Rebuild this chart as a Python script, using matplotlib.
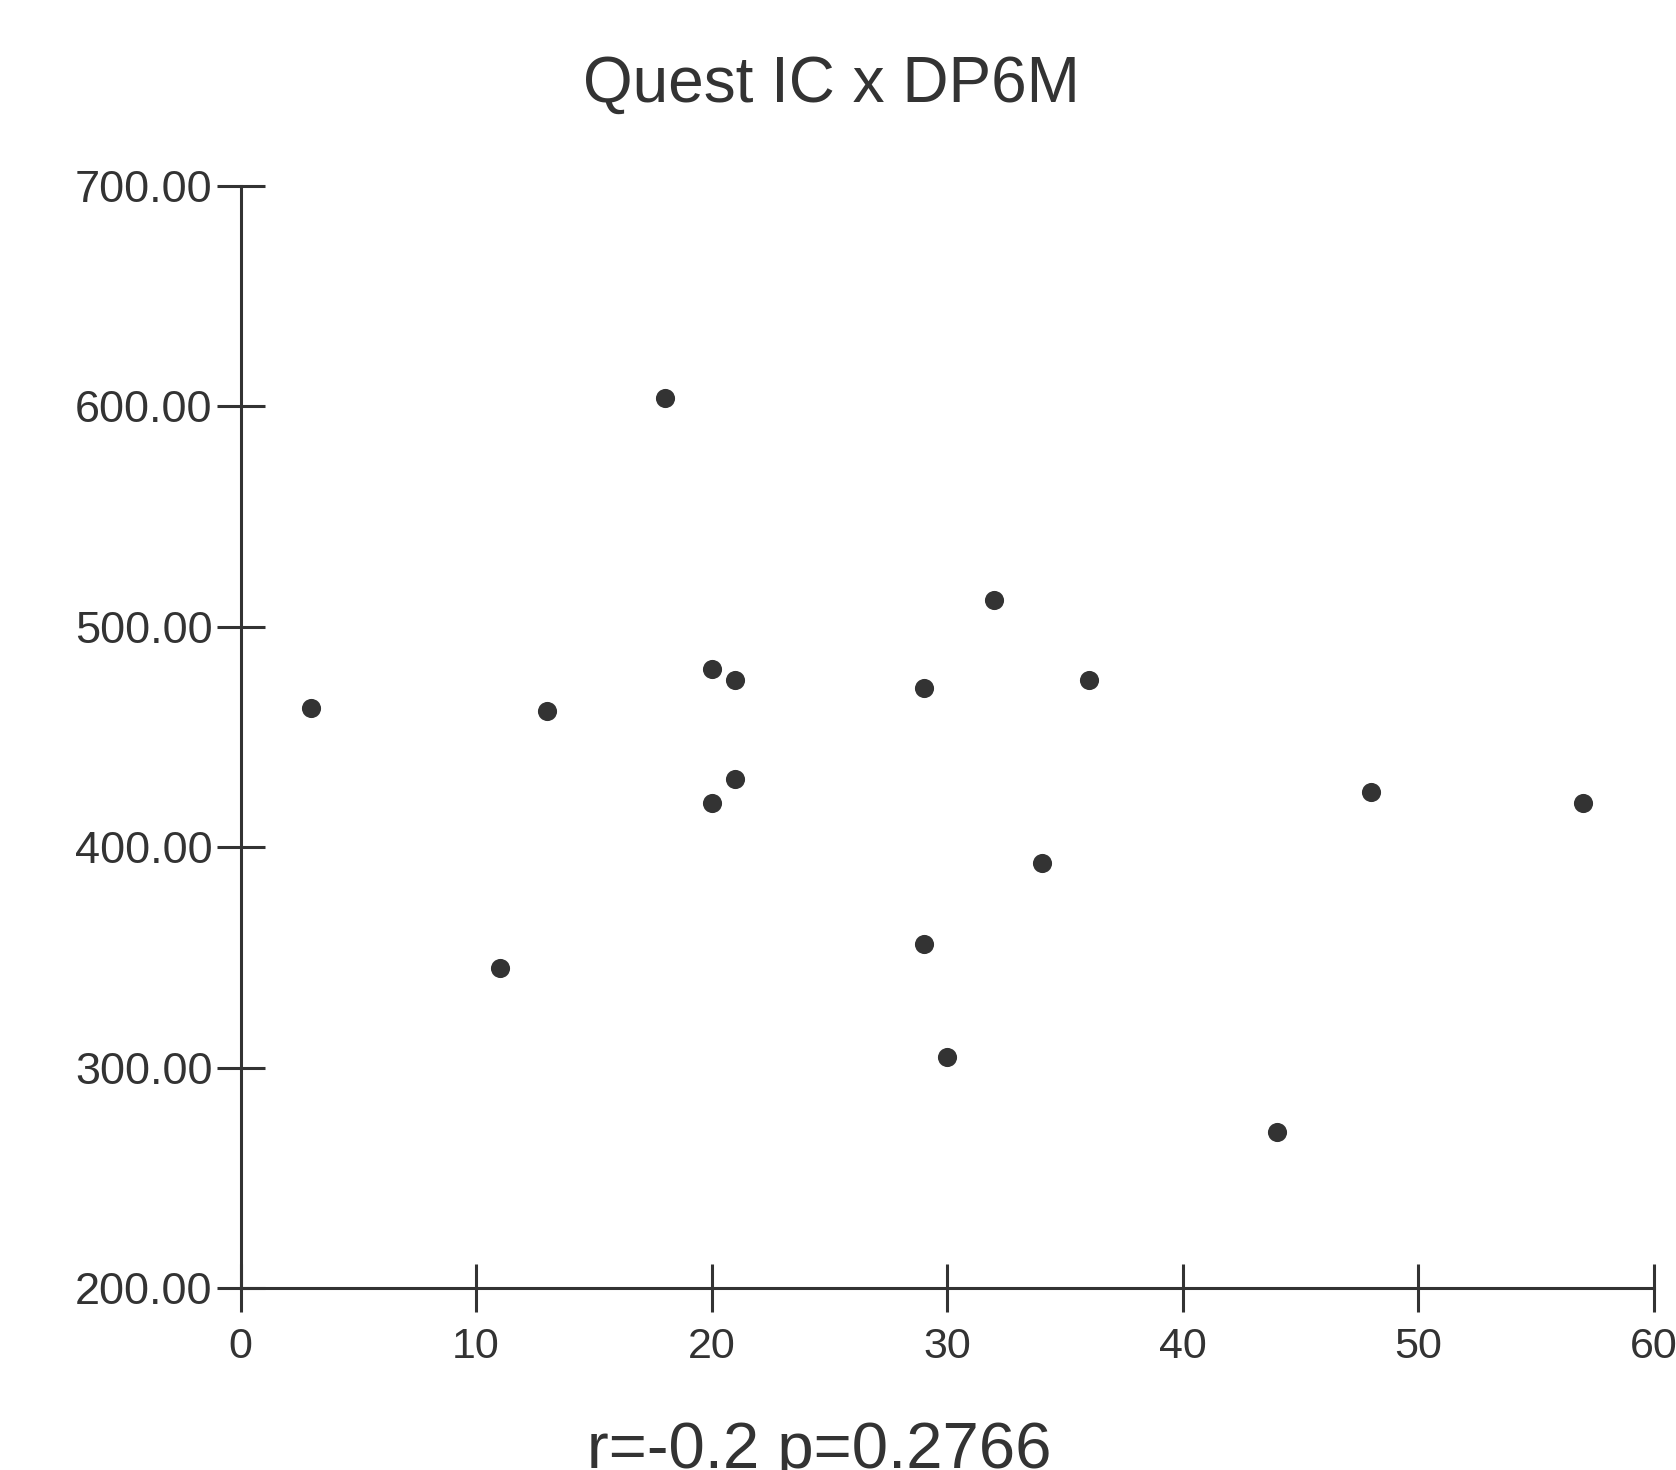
import numpy as np
import matplotlib
matplotlib.use("Agg")
import matplotlib.pyplot as plt

plt.rcParams['font.family'] = ['Liberation Sans', 'DejaVu Sans']

# Quest IC (x) vs DP6M (y)
quest_ic = [3, 11, 13, 18, 20, 20, 21, 21, 29, 29, 30, 32, 34, 36, 44, 48, 57]
dp6m = [463, 345, 462, 604, 481, 420, 476, 431, 472, 356, 305, 512, 393, 476, 271, 425, 420]

x_ticks = [0, 10, 20, 30, 40, 50, 60]
y_ticks = [200, 300, 400, 500, 600, 700]

col = '#333333'

fig = plt.figure(figsize=(16.76, 14.70), dpi=100)
ax = fig.add_axes([0.1435, 0.1238, 0.8434, 0.7497])

ax.scatter(quest_ic, dp6m, s=190, color=col, marker='o', linewidths=0, zorder=3, clip_on=False)

ax.set_xlim(0, 60)
ax.set_ylim(200, 700)
ax.set_xticks(x_ticks)
ax.set_yticks(y_ticks)
ax.set_yticklabels(['%.2f' % v for v in y_ticks])

for s in ['top', 'right']:
    ax.spines[s].set_visible(False)
for s in ['left', 'bottom']:
    ax.spines[s].set_color(col)
    ax.spines[s].set_linewidth(2.2)

ax.tick_params(axis='both', direction='inout', length=34, width=2.2, color=col,
               labelsize=31, labelcolor=col)
ax.tick_params(axis='y', pad=3, labelsize=32.5)
ax.tick_params(axis='x', pad=11)

fig.text(0.496, 0.931, 'Quest IC x DP6M', ha='center', va='baseline', fontsize=46, color=col)
fig.text(0.4887, 0.0014, 'r=-0.2 p=0.2766', ha='center', va='baseline', fontsize=47, color=col)

fig.savefig('out.png', dpi=100)
